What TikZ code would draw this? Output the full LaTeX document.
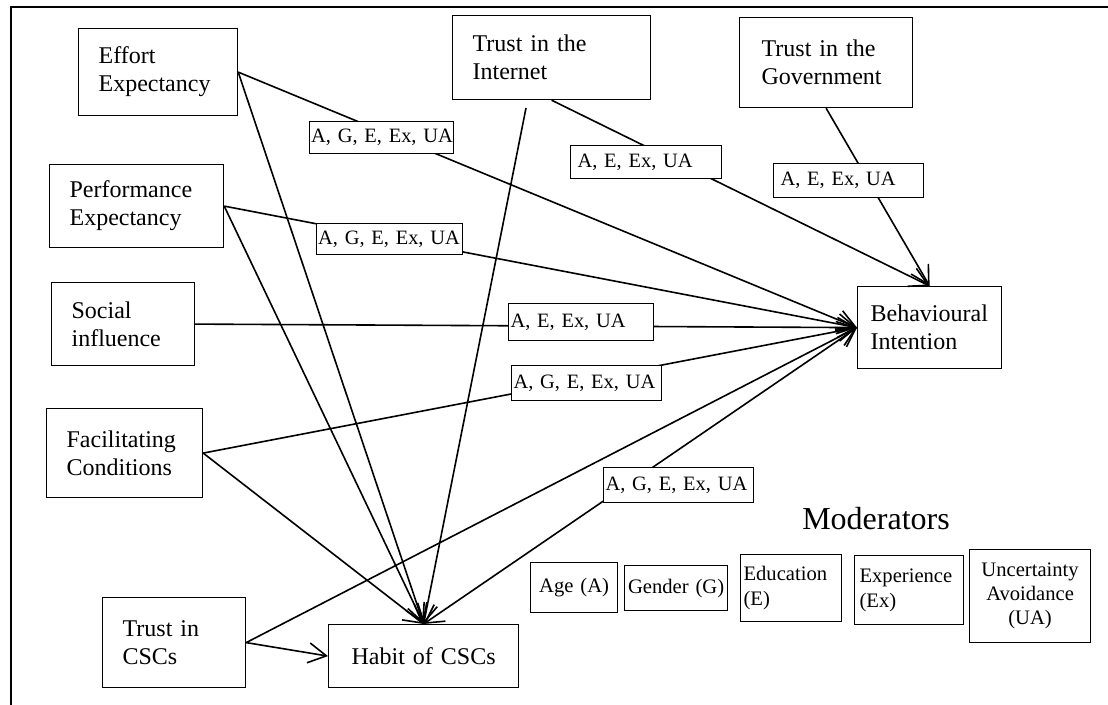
\documentclass[tikz,border=0pt]{standalone}
\usepackage{fontspec}
\setmainfont{Liberation Serif}
\usetikzlibrary{arrows.meta}
\begin{document}
\begin{tikzpicture}[x=0.5pt,y=-0.5pt,
  box/.style={draw, line width=0.6pt, anchor=north west, align=left,
    inner xsep=10pt, inner ysep=0pt, font=\fontsize{12}{14}\selectfont},
  lab/.style={draw, line width=0.6pt, fill=white, anchor=north west, align=left,
    inner ysep=0pt, font=\fontsize{10.2}{12}\selectfont},
  modbox/.style={draw, line width=0.6pt, anchor=north west, inner ysep=0pt,
    font=\fontsize{10.3}{12.5}\selectfont},
  link/.style={line width=0.8pt},
  arr/.style={link, -{Straight Barb[length=9pt,width=10pt]}},
  darr/.style={link, {Straight Barb[length=9pt,width=10pt]}-{Straight Barb[length=9pt,width=10pt]}},
]
\useasboundingbox (0,0) rectangle (1108,705);

% frame
\draw[line width=0.8pt] (11,705) |- (1108,7);

% constructs
\node[box, text width=59.5pt, minimum height=43.5pt] (ee) at (78,28) {Effort\\Expectancy};
\node[box, text width=67pt, minimum height=41.5pt] (pe) at (49,164) {Performance\\Expectancy};
\node[box, text width=51.5pt, minimum height=41.5pt] (si) at (51,282) {Social\\influence};
\node[box, text width=58pt, minimum height=44.5pt] (fc) at (46,408) {Facilitating\\Conditions};
\node[box, text width=79pt, minimum height=42pt] (inet) at (452,15) {Trust in the\\Internet};
\node[box, inner xsep=11pt, text width=64.5pt, minimum height=45pt] (gov) at (739,17) {Trust in the\\Government};
\node[box, inner xsep=6.5pt, text width=59pt, minimum height=41pt] (bi) at (857,286) {Behavioural\\Intention};
\node[box, text width=51.5pt, minimum height=45pt] (tcsc) at (102,597) {Trust in\\CSCs};
\node[box, align=center, inner xsep=0pt, text width=95pt, minimum height=31.5pt] (habit) at (328,624) {Habit of CSCs};

\coordinate (inetfoot) at (526,108);

% paths into Behavioural Intention
\draw[arr] (ee.east) -- (bi.west);
\draw[arr] (pe.east) -- (bi.west);
\draw[arr] (si.east) -- (bi.west);
\draw[arr] (fc.east) -- (bi.west);
\draw[arr] (tcsc.east) -- (bi.west);
\draw[arr] (inet.south) -- (bi.north);
\draw[arr] (gov.south) -- (bi.north);
\draw[darr] (habit.north) -- (bi.west);

% paths into Habit of CSCs
\draw[arr] (ee.east) -- (habit.north);
\draw[arr] (pe.east) -- (habit.north);
\draw[arr] (fc.east) -- (habit.north);
\draw[arr] (inetfoot) -- (habit.north);
\draw[arr] (tcsc.east) -- (habit.west);

% moderator labels on the paths
\node[lab, inner xsep=0.8pt, text width=70.4pt, minimum height=16pt] (m1) at (309,121) {\mbox{A, G, E, Ex, UA}};
\node[lab, inner xsep=3.5pt, text width=68.5pt, minimum height=16.5pt] (m2) at (570,145) {\mbox{A, E, Ex, UA}};
\node[lab, inner xsep=3.5pt, text width=68pt, minimum height=17pt] (m3) at (773,163) {\mbox{A, E, Ex, UA}};
\node[lab, inner xsep=0.8pt, text width=71.4pt, minimum height=15.5pt] (m4) at (316,223) {\mbox{A, G, E, Ex, UA}};
\node[lab, inner xsep=1pt, text width=70.5pt, minimum height=18.5pt] (m5) at (508,303) {\mbox{A, E, Ex, UA}};
\node[lab, inner xsep=1pt, text width=73pt, minimum height=17.5pt] (m6) at (511,365) {\mbox{A, G, E, Ex, UA}};
\node[lab, inner xsep=1pt, text width=73pt, minimum height=17.5pt] (m7) at (603,467) {\mbox{A, G, E, Ex, UA}};

% moderators legend
\node[anchor=base, inner sep=0pt, font=\fontsize{16}{19}\selectfont] (modtitle) at (876,529) {Moderators};
\node[modbox, align=center, inner xsep=0pt, text width=43.5pt, minimum height=25pt] (age) at (530,562) {Age (A)};
\node[modbox, align=center, inner xsep=0pt, text width=51.5pt, minimum height=22.5pt] (gender) at (624,565) {\mbox{Gender (G)}};
\node[modbox, align=left, inner xsep=1.5pt, text width=47.5pt, minimum height=33.5pt] (edu) at (740,554) {Education\\(E)};
\node[modbox, align=left, inner xsep=2.5pt, text width=49.5pt, minimum height=34.5pt] (exp) at (854,555) {Experience\\(Ex)};
\node[modbox, align=center, inner xsep=0pt, text width=60.5pt, minimum height=46.5pt,
  font=\fontsize{10.3}{12}\selectfont] (ua) at (969,549) {Uncertainty\\Avoidance\\(UA)};
\end{tikzpicture}
\end{document}
